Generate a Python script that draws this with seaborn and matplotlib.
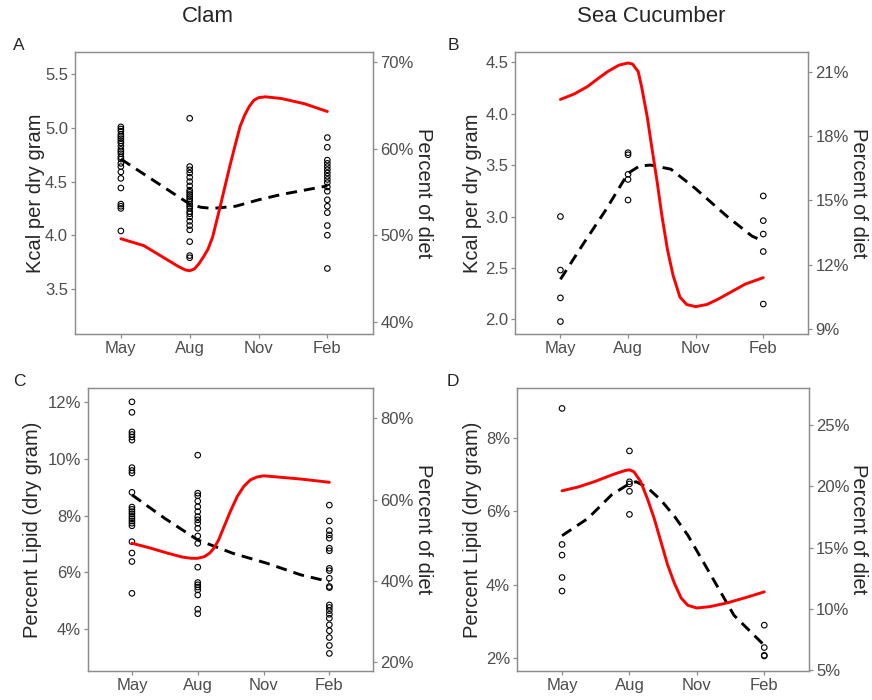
import numpy as np
import pandas as pd
import matplotlib
matplotlib.use("Agg")
import matplotlib.pyplot as plt
import seaborn as sns
from matplotlib.ticker import FuncFormatter

sns.set_style("white")
plt.rcParams['font.family'] = ['Liberation Sans', 'DejaVu Sans']

# months counted from May
month_ticks = [0, 3, 6, 9]
month_labels = ['May', 'Aug', 'Nov', 'Feb']

# ---- Clam, energy (A)
clam_kcal_may = [5.01, 4.99, 4.97, 4.94, 4.92, 4.90, 4.88, 4.86, 4.83, 4.80, 4.78, 4.76,
                 4.73, 4.71, 4.67, 4.64, 4.59, 4.53, 4.44, 4.29, 4.27, 4.25, 4.04]
clam_kcal_aug = [5.09, 4.64, 4.61, 4.58, 4.54, 4.50, 4.46, 4.42, 4.40, 4.38, 4.36, 4.34,
                 4.32, 4.29, 4.27, 4.25, 4.22, 4.20, 4.17, 4.13, 4.09, 4.05, 3.94, 3.81, 3.79]
clam_kcal_feb = [4.91, 4.82, 4.70, 4.67, 4.64, 4.61, 4.58, 4.55, 4.52, 4.49, 4.45, 4.41,
                 4.33, 4.27, 4.21, 4.09, 4.00, 3.69]
clam_kcal_fit_m = [0, 1, 2, 3, 3.5, 4, 5, 6, 7, 8, 9]
clam_kcal_fit = [4.71, 4.57, 4.43, 4.29, 4.26, 4.25, 4.27, 4.33, 4.38, 4.42, 4.46]
clam_diet_a_m = [0, 0.5, 1, 1.5, 2, 2.5, 2.8, 3, 3.2, 3.4, 3.6, 3.8, 4.0, 4.3, 4.75, 5.0,
                 5.2, 5.4, 5.6, 5.8, 6, 6.3, 7, 8, 9]
clam_diet_a = [49.6, 49.2, 48.8, 48.0, 47.2, 46.4, 46.0, 45.9, 46.1, 46.7, 47.5, 48.4,
               49.8, 53.0, 58.0, 60.6, 62.6, 63.9, 64.9, 65.6, 65.9, 66.0, 65.8, 65.2, 64.3]

# ---- Sea cucumber, energy (B)
cuke_kcal_may = [3.00, 2.48, 2.21, 1.98]
cuke_kcal_aug = [3.62, 3.60, 3.41, 3.36, 3.16]
cuke_kcal_feb = [3.20, 2.96, 2.83, 2.66, 2.15]
cuke_kcal_fit_m = [0, 1, 2, 3, 3.5, 4, 4.9, 6, 7.4, 8.5, 9]
cuke_kcal_fit = [2.39, 2.73, 3.06, 3.42, 3.49, 3.50, 3.46, 3.27, 3.00, 2.81, 2.76]
cuke_diet_b_m = [0, 0.6, 1.2, 1.7, 2.1, 2.6, 3, 3.2, 3.45, 3.6, 3.85, 4.05, 4.3, 4.5, 4.75,
                 5.0, 5.3, 5.6, 6, 6.5, 7, 7.6, 8.2, 9]
cuke_diet_b = [19.7, 19.95, 20.3, 20.7, 21.0, 21.3, 21.4, 21.35, 21.0, 20.3, 18.9, 17.5,
               15.8, 14.3, 12.7, 11.5, 10.5, 10.15, 10.05, 10.15, 10.4, 10.75, 11.1, 11.4]

# ---- Clam, lipid (C)
clam_lipid_may = [12.01, 11.64, 10.95, 10.86, 10.77, 10.66, 9.69, 9.59, 9.50, 8.82, 8.30,
                  8.22, 8.14, 8.06, 7.97, 7.89, 7.81, 7.73, 7.64, 7.08, 6.68, 6.38, 5.26]
clam_lipid_aug = [10.13, 8.79, 8.70, 8.51, 8.31, 8.14, 7.96, 7.85, 7.73, 7.55, 7.28, 7.02,
                  6.18, 5.64, 5.56, 5.48, 5.38, 5.20, 4.70, 4.54]
clam_lipid_feb = [8.37, 7.81, 7.47, 7.32, 7.20, 6.85, 6.76, 6.14, 6.06, 5.79, 5.50, 5.46,
                  4.85, 4.76, 4.65, 4.52, 4.38, 4.15, 3.94, 3.70, 3.42, 3.14]
clam_lipid_fit_m = [0, 1.5, 3, 4.6, 6.15, 7.7, 9]
clam_lipid_fit = [8.73, 7.90, 7.14, 6.67, 6.32, 5.91, 5.67]
clam_diet_c_m = [0, 0.85, 1.6, 2.3, 2.7, 3, 3.3, 3.55, 3.75, 3.95, 4.2, 4.5, 4.8, 5.1,
                 5.4, 5.7, 6, 7.7, 9]
clam_diet_c = [49.3, 48.1, 46.9, 45.9, 45.6, 45.6, 46.0, 46.9, 48.2, 50.1, 53.4, 57.3,
               60.8, 63.3, 64.9, 65.6, 65.9, 65.1, 64.3]

# ---- Sea cucumber, lipid (D)
cuke_lipid_may = [8.81, 5.10, 4.81, 4.20, 3.83]
cuke_lipid_aug = [7.65, 6.81, 6.75, 6.55, 5.92]
cuke_lipid_feb = [2.90, 2.29, 2.08, 2.06]
cuke_lipid_fit_m = [0, 1.15, 2.2, 3, 3.3, 3.8, 4.4, 5.0, 5.6, 6.45, 7.65, 9]
cuke_lipid_fit = [5.34, 5.81, 6.45, 6.76, 6.81, 6.65, 6.31, 5.87, 5.35, 4.45, 3.17, 2.35]
cuke_diet_d_m = [0, 0.7, 1.45, 2.3, 2.8, 3, 3.2, 3.5, 3.8, 4.1, 4.4, 4.7, 5.0, 5.3, 5.6,
                 6, 6.6, 7.35, 8.2, 9]
cuke_diet_d = [19.65, 19.95, 20.4, 21.0, 21.3, 21.36, 21.2, 20.4, 19.0, 17.4, 15.5, 13.6,
               12.1, 10.9, 10.3, 10.08, 10.2, 10.5, 10.95, 11.4]

FRAME = '#8c8c8c'
TICKTXT = '#4d4d4d'


def pts_frame(may, aug, feb):
    return pd.DataFrame({
        'month': [0] * len(may) + [3] * len(aug) + [9] * len(feb),
        'value': may + aug + feb,
    })


def style(ax, side):
    for s in ax.spines.values():
        s.set_color(FRAME)
        s.set_linewidth(0.9)
    ax.tick_params(axis='both', colors=FRAME, labelcolor=TICKTXT, labelsize=12,
                   length=3, width=0.9, pad=2, direction='out')
    if side == 'left':
        ax.tick_params(left=True, bottom=True)
    else:
        ax.tick_params(right=True, left=False)


def panel(rect, pts, fit_m, fit_v, diet_m, diet_v, ylim, yticks, yfmt, ylabel,
          y2lim, y2ticks, lab_x, lab2_x):
    ax = fig.add_axes(rect)
    sns.scatterplot(data=pts, x='month', y='value', ax=ax, s=16, color='black',
                    linewidth=0.8, zorder=3)
    ax.collections[-1].set_facecolor('none')
    ax.collections[-1].set_edgecolor('black')
    sns.lineplot(x=fit_m, y=fit_v, ax=ax, color='black', lw=2.1, zorder=4)
    ax.lines[-1].set_dashes([3.8, 2.4])
    ax.set_xlim(-2, 11)
    ax.set_ylim(*ylim)
    ax.set_xticks(month_ticks)
    ax.set_xticklabels(month_labels)
    ax.set_yticks(yticks)
    ax.yaxis.set_major_formatter(FuncFormatter(yfmt))
    ax.set_xlabel('')
    ax.set_ylabel(ylabel, fontsize=14.5, rotation=90, rotation_mode='default',
                  ha='center', va='center')
    ax.yaxis.set_label_coords(lab_x, 0.5)
    style(ax, 'left')

    ax2 = ax.twinx()
    sns.lineplot(x=diet_m, y=diet_v, ax=ax2, color='red', lw=2.1, zorder=5)
    ax2.set_ylim(*y2lim)
    ax2.set_yticks(y2ticks)
    ax2.yaxis.set_major_formatter(FuncFormatter(lambda v, _: f'{v:.0f}%'))
    ax2.set_ylabel('Percent of diet', fontsize=14.5, rotation=270,
                   rotation_mode='default', ha='center', va='center')
    ax2.yaxis.set_label_coords(lab2_x, 0.5)
    ax2.set_xlabel('')
    style(ax2, 'right')
    return ax


fig = plt.figure(figsize=(8.72, 7.0), dpi=100)

kcal_fmt = lambda v, _: f'{v:.1f}'
pct_fmt = lambda v, _: f'{v:.0f}%'

panel([0.086, 0.523, 0.342, 0.403], pts_frame(clam_kcal_may, clam_kcal_aug, clam_kcal_feb),
      clam_kcal_fit_m, clam_kcal_fit, clam_diet_a_m, clam_diet_a,
      (3.08, 5.71), [3.5, 4.0, 4.5, 5.0, 5.5], kcal_fmt, 'Kcal per dry gram',
      (38.6, 71.2), [40, 50, 60, 70], -0.131, 1.168)

panel([0.591, 0.523, 0.336, 0.403], pts_frame(cuke_kcal_may, cuke_kcal_aug, cuke_kcal_feb),
      cuke_kcal_fit_m, cuke_kcal_fit, cuke_diet_b_m, cuke_diet_b,
      (1.86, 4.60), [2.0, 2.5, 3.0, 3.5, 4.0, 4.5], kcal_fmt, 'Kcal per dry gram',
      (8.78, 21.92), [9, 12, 15, 18, 21], -0.147, 1.171)

panel([0.101, 0.0414, 0.327, 0.404], pts_frame(clam_lipid_may, clam_lipid_aug, clam_lipid_feb),
      clam_lipid_fit_m, clam_lipid_fit, clam_diet_c_m, clam_diet_c,
      (2.52, 12.49), [4, 6, 8, 10, 12], pct_fmt, 'Percent Lipid (dry gram)',
      (17.86, 87.45), [20, 40, 60, 80], -0.196, 1.175)

panel([0.593, 0.0414, 0.335, 0.404], pts_frame(cuke_lipid_may, cuke_lipid_aug, cuke_lipid_feb),
      cuke_lipid_fit_m, cuke_lipid_fit, cuke_diet_d_m, cuke_diet_d,
      (1.65, 9.36), [2, 4, 6, 8], pct_fmt, 'Percent Lipid (dry gram)',
      (4.94, 28.02), [5, 10, 15, 20, 25], -0.154, 1.168)

fig.text(208 / 872, 1 - 17 / 700, 'Clam', ha='center', va='center', fontsize=16)
fig.text(651 / 872, 1 - 17 / 700, 'Sea Cucumber', ha='center', va='center', fontsize=16)
for lab, x, y in [('A', 19, 45), ('B', 453, 45), ('C', 19, 381), ('D', 453, 381)]:
    fig.text(x / 872, 1 - y / 700, lab, ha='center', va='center', fontsize=12.5)

fig.savefig('out.png', dpi=100)
